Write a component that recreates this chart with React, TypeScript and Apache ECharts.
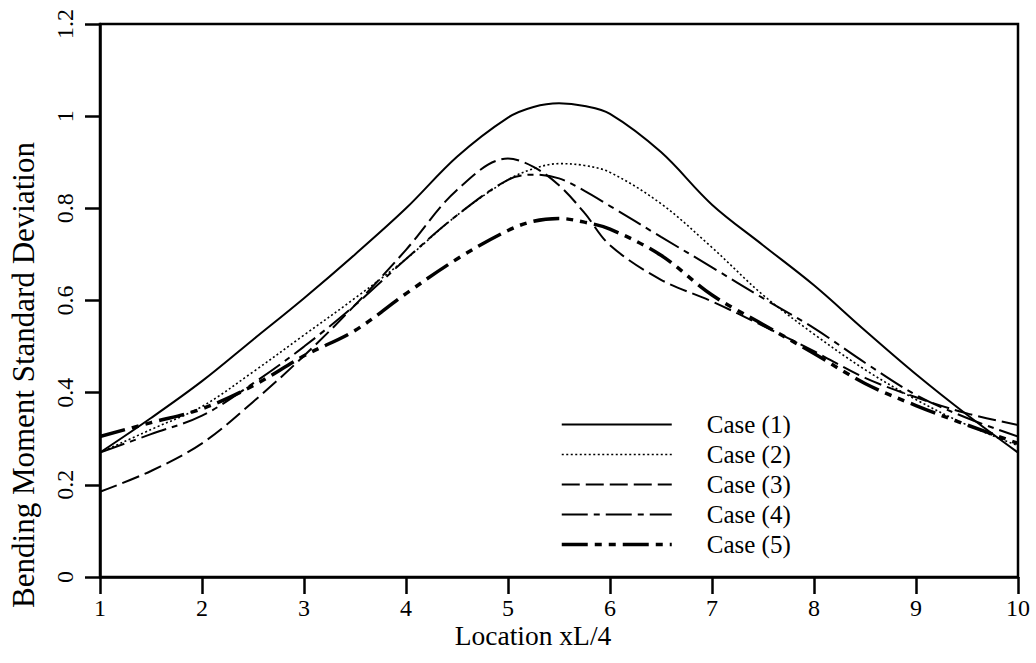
import React, { useEffect, useRef } from "react";
import * as echarts from "echarts";

const xs = [1, 1.5, 2, 2.5, 3, 3.5, 4, 4.5, 5, 5.25, 5.5, 5.75, 6, 6.5, 7, 7.5, 8, 8.5, 9, 9.5, 10];
const case1 = [0.27, 0.345, 0.425, 0.515, 0.605, 0.7, 0.8, 0.912, 0.997, 1.02, 1.028, 1.022, 1.005, 0.922, 0.808, 0.72, 0.633, 0.535, 0.44, 0.352, 0.27];
const case2 = [0.27, 0.32, 0.37, 0.445, 0.525, 0.605, 0.69, 0.785, 0.862, 0.886, 0.897, 0.893, 0.878, 0.81, 0.715, 0.612, 0.527, 0.45, 0.385, 0.33, 0.285];
const case3 = [0.185, 0.23, 0.29, 0.38, 0.48, 0.59, 0.71, 0.84, 0.908, 0.89, 0.85, 0.79, 0.72, 0.645, 0.598, 0.545, 0.49, 0.432, 0.39, 0.355, 0.33];
const case4 = [0.27, 0.31, 0.35, 0.42, 0.5, 0.59, 0.69, 0.785, 0.862, 0.873, 0.865, 0.838, 0.805, 0.738, 0.672, 0.605, 0.54, 0.465, 0.395, 0.345, 0.305];
const case5 = [0.305, 0.335, 0.365, 0.415, 0.48, 0.535, 0.615, 0.69, 0.752, 0.772, 0.778, 0.77, 0.755, 0.698, 0.612, 0.548, 0.485, 0.42, 0.372, 0.33, 0.29];
const caseNames = ["Case (1)", "Case (2)", "Case (3)", "Case (4)", "Case (5)"];
const xTitle = "Location xL/4";
const yTitle = "Bending Moment Standard Deviation";

const FONT = '"Liberation Serif", "Times New Roman", serif';

export default function App() {
  const ref = useRef<HTMLDivElement>(null);
  useEffect(() => {
    if (!ref.current) return;
    const chart = echarts.init(ref.current, null, { renderer: "svg" });
    const all = [case1, case2, case3, case4, case5];
    const styles = [
      { width: 2, type: "solid" },
      { width: 1.6, type: [2, 2.5] },
      { width: 2, type: [18, 6] },
      { width: 2, type: [26, 6, 6, 6] },
      { width: 3.5, type: [26, 7, 7, 7, 7, 7] },
    ];
    const series = all.map((vals, i) => ({
      name: caseNames[i],
      type: "line",
      smooth: 0.35,
      symbol: "none",
      data: xs.map((x, j) => [x, vals[j]]),
      lineStyle: { color: "#000", width: styles[i].width, type: styles[i].type as any },
      itemStyle: { color: "rgba(0,0,0,0)", borderWidth: 0 },
    }));
    chart.setOption({
      animation: false,
      backgroundColor: "#fff",
      grid: {
        left: 100,
        right: 18,
        top: 24,
        bottom: 86,
        show: true,
        borderColor: "#000",
        borderWidth: 2.5,
      },
      xAxis: {
        type: "value",
        min: 1,
        max: 10,
        interval: 1,
        splitLine: { show: false },
        axisLine: { lineStyle: { color: "#000", width: 2.5 } },
        axisTick: { length: 17, lineStyle: { color: "#000", width: 2.5 } },
        axisLabel: { color: "#000", fontFamily: FONT, fontSize: 24, margin: 19 },
      },
      yAxis: {
        type: "value",
        min: 0,
        max: 1.2,
        interval: 0.2,
        splitLine: { show: false },
        axisLine: { show: true, lineStyle: { color: "#000", width: 2.5 } },
        axisTick: { show: true, length: 15, lineStyle: { color: "#000", width: 2.5 } },
        axisLabel: { color: "#000", fontFamily: FONT, fontSize: 24, margin: 23, rotate: 90 },
      },
      legend: {
        orient: "vertical",
        left: 555,
        top: 407,
        itemWidth: 110,
        itemHeight: 14,
        itemGap: 5,
        itemStyle: { color: "rgba(0,0,0,0)", borderWidth: 0, opacity: 0 },
        lineStyle: { width: "inherit" },
        textStyle: { color: "#000", fontFamily: FONT, fontSize: 25, lineHeight: 24, padding: [0, 0, 0, 30] },
        data: caseNames,
      },
      graphic: [
        {
          type: "text",
          x: 533,
          y: 635,
          style: { text: xTitle, font: `27.5px ${FONT}`, fill: "#000", textAlign: "center", textVerticalAlign: "middle" },
        },
        {
          type: "text",
          x: 23,
          y: 375,
          rotation: Math.PI / 2,
          style: { text: yTitle, font: `31px ${FONT}`, fill: "#000", textAlign: "center", textVerticalAlign: "middle" },
        },
      ],
      series,
    });
    return () => chart.dispose();
  }, []);
  return <div ref={ref} style={{ position: "fixed", left: 0, top: 0, width: 1036, height: 663, background: "#fff" }} />;
}
